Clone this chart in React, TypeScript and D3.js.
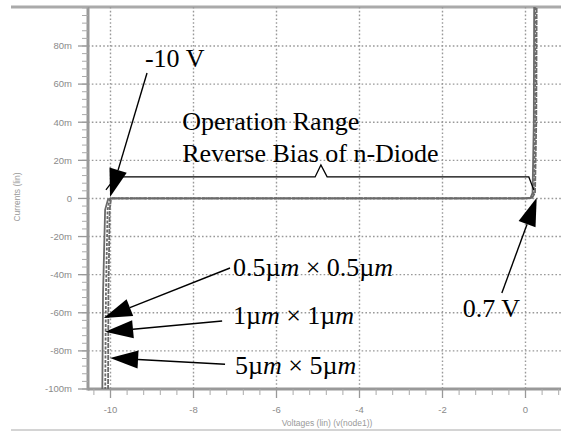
import * as d3 from "d3"

// axis ticks (voltage in V, current in mA)
const voltTicks = [-10, -8, -6, -4, -2, 0]
const currTicks = [80, 60, 40, 20, 0, -20, -40, -60, -80, -100]
const currLabels = ["80m", "60m", "40m", "20m", "0", "-20m", "-40m", "-60m", "-80m", "-100m"]

// three diode sizes
const volt05 = [-10.2, -10.18, -10.13, -10.06, -10.0, 0, 0.12, 0.17, 0.2, 0.21]
const curr05 = [-110, -50, -6, -0.5, 0, 0, 0.3, 3, 40, 110]
const volt1 = [-10.13, -10.11, -10.07, -10.02, -9.98, 0, 0.14, 0.2, 0.23, 0.24]
const curr1 = [-110, -50, -6, -0.5, 0, 0, 0.3, 3, 40, 110]
const volt5 = [-10.06, -10.05, -10.02, -9.99, -9.95, 0, 0.16, 0.23, 0.26, 0.27]
const curr5 = [-110, -50, -6, -0.5, 0, 0, 0.3, 3, 40, 110]
const series = [
  { v: volt05, i: curr05 },
  { v: volt1, i: curr1 },
  { v: volt5, i: curr5 },
]

// annotation arrows: [tail, tip] in data units
const arrows: [number, number][][] = [
  [[-9.12, 65.8], [-10.01, 0.8]],
  [[-0.57, -49.6], [0.27, 0.3]],
  [[-7.12, -36.5], [-10.16, -62.7]],
  [[-7.31, -64.3], [-10.13, -70.0]],
  [[-7.24, -87.0], [-10.01, -83.7]],
]

// bracket over the operating range
const bracketV = [-10.11, -9.87, -5.07, -4.93, -4.78, 0.08, 0.2]
const bracketI = [4.5, 11.3, 11.3, 17.6, 11.3, 11.3, 4.5]

// plain labels
const plainLabels = [
  { v: -9.17, i: 69, text: "-10 V" },
  { v: -8.27, i: 35.9, text: "Operation Range" },
  { v: -8.27, i: 19.2, text: "Reverse Bias of n-Diode" },
  { v: -1.51, i: -62.2, text: "0.7 V" },
]
// size labels: number before µm
const sizeLabels = [
  { v: -7.05, i: -40.7, n: "0.5" },
  { v: -7.05, i: -65.8, n: "1" },
  { v: -7.0, i: -92.1, n: "5" },
]

const W = 561
const H = 432
const left = 88
const top = 7
const bottom = 389

const serif = "'Liberation Serif', 'Times New Roman', serif"
const sans = "'Liberation Sans', Arial, sans-serif"

export default function App() {
  const x = d3.scaleLinear().domain([-10, 0]).range([110.5, 525.5])
  const y = d3.scaleLinear().domain([-100, 80]).range([bottom, 46])

  const minorX = d3.range(-10.4, 0.9, 0.4).filter((v) => x(v) >= left && x(v) <= W)
  const minorY = d3.range(-100, 101, 4).filter((c) => y(c) >= top && y(c) <= bottom)

  const curvePath = (s: { v: number[]; i: number[] }) =>
    d3.line<number>()
      .x((_, k) => x(s.v[k]))
      .y((_, k) => y(s.i[k]))(s.v) || ""

  const bracketPath =
    d3.line<number>()
      .x((d) => x(d))
      .y((_, k) => y(bracketI[k]))(bracketV) || ""

  const arrowShapes = arrows.map(([tail, tip]) => {
    const x1 = x(tail[0]), y1 = y(tail[1])
    const x2 = x(tip[0]), y2 = y(tip[1])
    const len = Math.hypot(x2 - x1, y2 - y1)
    const dx = (x2 - x1) / len, dy = (y2 - y1) / len
    const L = 28, w = 9
    const bx = x2 - dx * L, by = y2 - dy * L
    const head = [
      [x2, y2],
      [bx - dy * w, by + dx * w],
      [bx + dy * w, by - dx * w],
    ]
    return { x1, y1, bx, by, head: head.map((p) => p.join(",")).join(" ") }
  })

  return (
    <div style={{ position: "absolute", left: 0, top: 0 }}>
      <svg width={W} height={H} style={{ display: "block", background: "#fff" }}>
        <defs>
          <clipPath id="plot">
            <rect x={left} y={top} width={W - left} height={bottom - top} />
          </clipPath>
        </defs>

        {/* frame */}
        <line x1={11} x2={W} y1={top} y2={top} stroke="#aaa" strokeWidth={3} />
        <line x1={11} x2={W} y1={430} y2={430} stroke="#d4d4d4" strokeWidth={2} />

        {/* grid */}
        {voltTicks.map((v) => (
          <line key={"gx" + v} x1={x(v)} x2={x(v)} y1={top} y2={bottom}
            stroke="#999" strokeWidth={1.4} strokeDasharray="1.6,2.2" />
        ))}
        {currTicks.filter((c) => c !== -100).map((c) => (
          <line key={"gy" + c} x1={left} x2={W} y1={y(c)} y2={y(c)}
            stroke="#999" strokeWidth={1.4} strokeDasharray="1.6,2.2" />
        ))}

        {/* axes */}
        <line x1={left} x2={left} y1={top} y2={bottom + 1.5} stroke="#999" strokeWidth={3} />
        <line x1={left} x2={W} y1={bottom} y2={bottom} stroke="#999" strokeWidth={3} />
        {minorY.map((c) => (
          <line key={"my" + c} x1={left - 6} x2={left} y1={y(c)} y2={y(c)} stroke="#aaa" strokeWidth={1} />
        ))}
        {currTicks.map((c) => (
          <line key={"ty" + c} x1={left - 10} x2={left} y1={y(c)} y2={y(c)} stroke="#999" strokeWidth={1.3} />
        ))}
        {minorX.map((v) => (
          <line key={"mx" + v.toFixed(1)} x1={x(v)} x2={x(v)} y1={bottom} y2={bottom + 6} stroke="#aaa" strokeWidth={1} />
        ))}
        {voltTicks.map((v) => (
          <line key={"tx" + v} x1={x(v)} x2={x(v)} y1={bottom} y2={bottom + 9} stroke="#999" strokeWidth={1.3} />
        ))}

        {/* tick labels */}
        {currTicks.map((c, k) => (
          <text key={"ly" + c} x={72} y={y(c)} dy="0.35em" textAnchor="end"
            fontFamily={sans} fontSize={9.5} fill="#8a8a8a">{currLabels[k]}</text>
        ))}
        {voltTicks.map((v) => (
          <text key={"lx" + v} x={x(v)} y={410} dy="0.35em" textAnchor="middle"
            fontFamily={sans} fontSize={9.5} fill="#8a8a8a">{v}</text>
        ))}
        <text x={327} y={423} dy="0.35em" textAnchor="middle" fontFamily={sans} fontSize={8.5} fill="#999">
          Voltages (lin) (v(node1))
        </text>
        <text transform="translate(17,197) rotate(-90)" textAnchor="middle" dy="0.35em"
          fontFamily={sans} fontSize={8.5} fill="#999">
          Currents (lin)
        </text>

        {/* I-V curves */}
        <g clipPath="url(#plot)">
          {series.map((s, k) => (
            <path key={"c" + k} d={curvePath(s)} fill="none" stroke="#6a6a6a" strokeWidth={1.8}
              strokeDasharray={k === 1 ? "3,1.5" : k === 2 ? "5,1" : undefined} />
          ))}
        </g>

        {/* bracket */}
        <path d={bracketPath} fill="none" stroke="#000" strokeWidth={1.3} />

        {/* arrows */}
        {arrowShapes.map((a, k) => (
          <g key={"a" + k}>
            <line x1={a.x1} y1={a.y1} x2={a.bx} y2={a.by} stroke="#000" strokeWidth={1.4} />
            <polygon points={a.head} fill="#000" />
          </g>
        ))}

        {/* labels */}
        {plainLabels.map((l) => (
          <text key={l.text} x={x(l.v)} y={y(l.i)} fontFamily={serif} fontSize={26} fill="#000">
            {l.text}
          </text>
        ))}
        {sizeLabels.map((l) => (
          <text key={l.n} x={x(l.v)} y={y(l.i)} fontFamily={serif} fontSize={26} fill="#000">
            {l.n}µ<tspan fontStyle="italic">m</tspan>{" × "}{l.n}µ<tspan fontStyle="italic">m</tspan>
          </text>
        ))}
      </svg>
    </div>
  )
}
